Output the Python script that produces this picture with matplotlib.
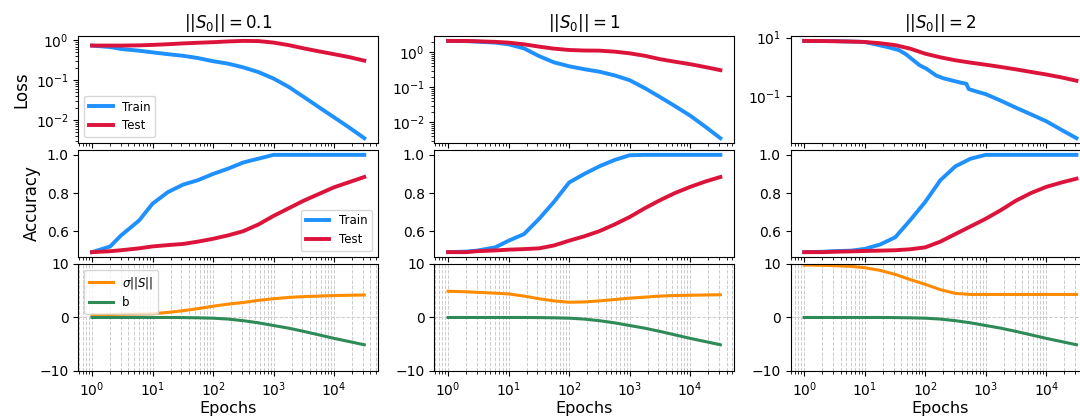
import numpy as np
import matplotlib.pyplot as plt

epochs = [1, 2, 3, 6, 10, 18, 32, 56, 100, 178, 316, 562, 1000, 1778,
          3162, 5623, 10000, 17783, 31623]
epochs_s2_train = [1, 3, 10, 15, 25, 37, 49, 63, 81, 105, 151, 200, 288, 398,
                   479, 525, 708, 1000, 1778, 3162, 5623, 10000, 17783, 31623]

titles = [r'$||S_0|| = 0.1$', r'$||S_0|| = 1$', r'$||S_0|| = 2$']

# loss
train_loss = [
    [0.74, 0.68, 0.61, 0.55, 0.50, 0.45, 0.41, 0.36, 0.30, 0.26, 0.21, 0.16,
     0.11, 0.068, 0.038, 0.021, 0.0117, 0.0065, 0.0035],
    [2.13, 2.1, 2.03, 1.9, 1.7, 1.3, 0.78, 0.52, 0.40, 0.33, 0.28, 0.22,
     0.16, 0.095, 0.053, 0.029, 0.0155, 0.0075, 0.0035],
    [7.7, 7.6, 7.1, 5.9, 4.6, 3.7, 2.6, 1.7, 1.12, 0.85, 0.50, 0.40, 0.33,
     0.28, 0.26, 0.17, 0.14, 0.114, 0.068, 0.039, 0.023, 0.0134, 0.0068, 0.0035],
]
test_loss = [
    [0.74, 0.74, 0.74, 0.75, 0.77, 0.80, 0.84, 0.87, 0.90, 0.94, 0.97, 0.96,
     0.88, 0.76, 0.63, 0.53, 0.45, 0.38, 0.31],
    [2.13, 2.12, 2.08, 2.0, 1.9, 1.7, 1.46, 1.28, 1.17, 1.13, 1.12, 1.05,
     0.94, 0.8, 0.64, 0.54, 0.46, 0.38, 0.31],
    [7.7, 7.6, 7.5, 7.3, 7.07, 6.4, 5.5, 4.2, 2.8, 2.1, 1.66, 1.38,
     1.17, 0.98, 0.81, 0.66, 0.54, 0.43, 0.33],
]

# accuracy
train_acc = [
    [0.49, 0.52, 0.577, 0.656, 0.744, 0.805, 0.844, 0.867, 0.90, 0.928, 0.96,
     0.98, 1.0, 1.0, 1.0, 1.0, 1.0, 1.0, 1.0],
    [0.49, 0.493, 0.498, 0.515, 0.55, 0.585, 0.665, 0.753, 0.855, 0.90, 0.94,
     0.973, 0.998, 1.0, 1.0, 1.0, 1.0, 1.0, 1.0],
    [0.49, 0.492, 0.495, 0.498, 0.507, 0.53, 0.568, 0.656, 0.753, 0.867, 0.94,
     0.98, 1.0, 1.0, 1.0, 1.0, 1.0, 1.0, 1.0],
]
test_acc = [
    [0.49, 0.495, 0.50, 0.51, 0.52, 0.527, 0.533, 0.545, 0.56, 0.578, 0.60,
     0.635, 0.68, 0.72, 0.76, 0.795, 0.83, 0.857, 0.884],
    [0.49, 0.49, 0.495, 0.499, 0.503, 0.506, 0.51, 0.525, 0.55, 0.573, 0.60,
     0.635, 0.674, 0.72, 0.762, 0.80, 0.832, 0.86, 0.884],
    [0.49, 0.49, 0.492, 0.494, 0.496, 0.498, 0.50, 0.505, 0.515, 0.545, 0.585,
     0.625, 0.665, 0.71, 0.76, 0.80, 0.832, 0.855, 0.875],
]

# parameters
sigma_s = [
    [0.5, 0.55, 0.6, 0.65, 0.7, 0.95, 1.26, 1.65, 2.1, 2.5, 2.8, 3.2, 3.5,
     3.75, 3.9, 4.0, 4.1, 4.15, 4.2],
    [4.9, 4.8, 4.7, 4.55, 4.4, 4.0, 3.5, 3.1, 2.85, 2.9, 3.1, 3.35, 3.6, 3.8,
     4.0, 4.1, 4.15, 4.2, 4.25],
    [9.8, 9.75, 9.7, 9.55, 9.3, 8.8, 8.05, 7.1, 6.2, 5.2, 4.5, 4.3, 4.3, 4.3,
     4.3, 4.3, 4.3, 4.3, 4.3],
]
bias = [0, 0, 0, 0, 0, 0, -0.02, -0.06, -0.13, -0.3, -0.6, -1.0, -1.5, -2.0,
        -2.6, -3.25, -3.9, -4.5, -5.1]

c_train = '#1E90FF'
c_test = '#DC143C'
c_sig = '#FF8C00'
c_b = '#2E8B57'

fig, axes = plt.subplots(3, 3, figsize=(10.8, 4.19), dpi=100, sharex='col')
plt.subplots_adjust(left=0.0726, right=1.0093, top=0.914, bottom=0.1146,
                    wspace=0.189, hspace=0.065)

for j in range(3):
    ax = axes[0, j]
    xe = epochs_s2_train if j == 2 else epochs
    ax.plot(xe, train_loss[j], color=c_train, lw=2.8, label='Train')
    ax.plot(epochs, test_loss[j], color=c_test, lw=2.8, label='Test')
    ax.set_xscale('log')
    ax.set_yscale('log')
    ax.set_title(titles[j], fontsize=12)

    ax = axes[1, j]
    ax.plot(epochs, train_acc[j], color=c_train, lw=2.8, label='Train')
    ax.plot(epochs, test_acc[j], color=c_test, lw=2.8, label='Test')
    ax.set_yticks([0.6, 0.8, 1.0])

    ax = axes[2, j]
    ax.plot(epochs, sigma_s[j], color=c_sig, lw=2.2, label=r'$\sigma||S||$')
    ax.plot(epochs, bias, color=c_b, lw=2.2, label='b')
    ax.set_ylim(-10, 10)
    ax.set_yticks([-10, 0, 10])
    ax.grid(True, which='both', ls='--', color='#cccccc', lw=0.7)
    ax.set_xlabel('Epochs', fontsize=11.5, labelpad=1)

    for a in axes[:, j]:
        a.tick_params(labelsize=10)

axes[0, 0].set_ylabel('Loss', fontsize=12)
axes[1, 0].set_ylabel('Accuracy', fontsize=12)
axes[0, 0].legend(loc='lower left', fontsize=8.5)
axes[1, 0].legend(loc='lower right', fontsize=8.5)
axes[2, 0].legend(loc='upper left', fontsize=8.5)

fig.savefig('out.png', dpi=100)
